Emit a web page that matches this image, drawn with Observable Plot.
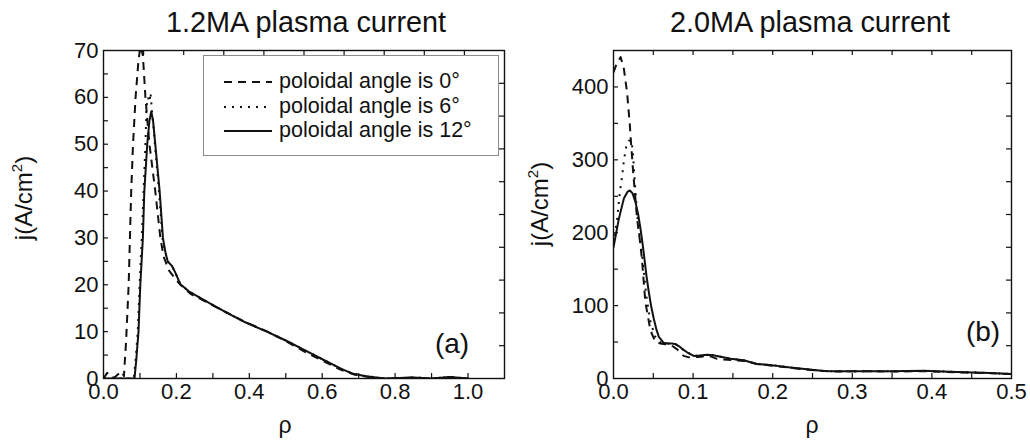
<!DOCTYPE html>
<html>
<head>
<meta charset="utf-8">
<script src="https://cdn.jsdelivr.net/npm/d3@7"></script>
<script src="https://cdn.jsdelivr.net/npm/@observablehq/plot@0.6"></script>
<style>
  html, body { margin: 0; padding: 0; background: #fff; }
  body { width: 1030px; height: 441px; position: relative; overflow: hidden;
         font-family: 'Liberation Sans', Arial, Helvetica, sans-serif; color: #111; }
  .abs { position: absolute; white-space: nowrap; }
  .title { font-size: 30px; line-height: 32px; text-align: center; width: 400px; transform: scaleX(0.96); }
  .ylab { font-size: 24px; transform: translate(-50%, -50%) rotate(-90deg); }
  .ylab sup { font-size: 15px; vertical-align: 10px; line-height: 0; }
  .xlab { font-size: 23px; transform: translate(-50%, -50%); }
  .tag { font-size: 28px; transform: translate(-50%, -50%); }
  .legend { border: 1.5px solid #8c8c8c; box-sizing: border-box; background: #fff; }
  .legend .row { position: absolute; left: 20px; height: 26px; font-size: 21.5px; line-height: 26px; }
  .legend svg { vertical-align: middle; margin-right: 7px; }
</style>
</head>
<body>
<div id="left" class="abs" style="left:0;top:0"></div>
<div id="right" class="abs" style="left:515px;top:0"></div>

<script>
// ---------------- data ----------------
// Panel (a): 1.2MA plasma current
const titleA = "1.2MA plasma current";
const rhoA0 = [0, 0.01, 0.02, 0.03, 0.04, 0.05, 0.056, 0.062, 0.069, 0.076, 0.081, 0.088, 0.095, 0.101, 0.108, 0.115, 0.126, 0.142, 0.156, 0.165, 0.18, 0.197, 0.211, 0.24, 0.29, 0.34, 0.39, 0.45, 0.5, 0.55, 0.6, 0.65, 0.69, 0.73, 0.78, 0.85, 0.9, 0.95, 1.0];
const jA0   = [0, 1.2, 0.3, 0.2, 0.9, 1.5, 0.5, 8, 20, 40, 50, 60, 67, 71, 69, 60, 50, 40, 30, 26, 23, 21.3, 20, 18, 16, 14, 12, 10, 8, 5.8, 3.8, 1.9, 0.8, 0.3, 0, 0.2, 0, 0.3, 0];
const rhoA6 = [0, 0.083, 0.088, 0.094, 0.099, 0.105, 0.110, 0.115, 0.118, 0.122, 0.126, 0.129, 0.133, 0.138, 0.143, 0.150, 0.157, 0.163, 0.170, 0.176, 0.188, 0.197, 0.211, 0.234, 0.293, 0.339, 0.389, 0.448, 0.503, 0.553, 0.603, 0.654, 0.685, 0.72, 0.77, 0.85, 0.9, 0.95, 1.0];
const jA6   = [0, 0, 4, 10, 20, 30, 40, 50, 58, 60, 59, 61, 57, 53, 48, 42, 35, 29, 26.9, 25, 24, 22.6, 20.1, 18.6, 16, 14, 12, 10, 8, 6, 4, 2, 1, 0.5, 0, 0.2, 0, 0.3, 0];
const rhoA12 = [0, 0.085, 0.090, 0.096, 0.101, 0.108, 0.112, 0.120, 0.126, 0.131, 0.136, 0.142, 0.148, 0.154, 0.163, 0.170, 0.176, 0.188, 0.197, 0.211, 0.234, 0.293, 0.339, 0.389, 0.448, 0.503, 0.553, 0.603, 0.654, 0.685, 0.72, 0.77, 0.85, 0.9, 0.95, 1.0];
const jA12   = [0, 0, 4, 10, 20, 30, 40, 50, 55, 57, 55, 50, 45, 40, 30, 26.9, 25, 24, 22.6, 20.1, 18.6, 16, 14, 12, 10, 8, 6, 4, 2, 1, 0.5, 0, 0.2, 0, 0.3, 0];

// Panel (b): 2.0MA plasma current
const titleB = "2.0MA plasma current";
const rhoB0 = [0, 0.004, 0.009, 0.013, 0.017, 0.0205, 0.022, 0.0247, 0.0268, 0.0297, 0.0339, 0.036, 0.040, 0.0464, 0.0527, 0.059, 0.065, 0.072, 0.08, 0.088, 0.095, 0.1, 0.11, 0.12, 0.13, 0.15, 0.165, 0.18, 0.2, 0.22, 0.24, 0.26, 0.28, 0.3, 0.32, 0.35, 0.39, 0.43, 0.47, 0.5];
const jB0   = [420, 432, 441, 425, 393, 348, 324, 283, 256, 219, 183, 160, 105, 66, 50, 48, 47, 46, 40, 31, 29, 29, 30, 31, 27, 25, 24, 20, 17.5, 15, 12.5, 10.5, 9.5, 9.8, 10, 9.5, 10, 8.5, 7.5, 6];
const rhoB6 = [0, 0.0046, 0.008, 0.011, 0.013, 0.0163, 0.019, 0.022, 0.024, 0.0268, 0.0297, 0.0339, 0.037, 0.041, 0.046, 0.052, 0.058, 0.063, 0.068, 0.0737, 0.078, 0.082, 0.087, 0.0925, 0.1008, 0.108, 0.118, 0.125, 0.130, 0.147, 0.1635, 0.180, 0.201, 0.222, 0.243, 0.264, 0.285, 0.306, 0.348, 0.39, 0.431, 0.473, 0.5];
const jB6   = [185, 219, 256, 279, 299, 320, 326, 327, 315, 270, 225, 185, 160, 115, 80, 58, 50, 48, 48, 48, 47, 44.5, 40, 36, 31, 31.5, 32.6, 32, 31, 27, 25, 20, 18, 15, 12.6, 10.3, 9.8, 10, 10, 10.5, 9, 7.5, 6];
const rhoB12 = [0, 0.0067, 0.013, 0.0175, 0.0205, 0.024, 0.0276, 0.031, 0.034, 0.0365, 0.0389, 0.0415, 0.0443, 0.0475, 0.0506, 0.054, 0.057, 0.063, 0.068, 0.0737, 0.078, 0.082, 0.087, 0.0925, 0.1008, 0.108, 0.118, 0.125, 0.130, 0.147, 0.1635, 0.180, 0.201, 0.222, 0.243, 0.264, 0.285, 0.306, 0.348, 0.39, 0.431, 0.473, 0.5];
const jB12   = [180, 219, 247, 256, 258, 254, 242, 225, 205, 185, 164, 140, 119, 98, 82, 67, 57, 49, 48, 48, 47, 44.5, 40, 36, 31, 31.5, 32.6, 32, 31, 27, 25, 20, 18, 15, 12.6, 10.3, 9.8, 10, 10, 10.5, 9, 7.5, 6];

// legend / labels
const seriesNames = ["poloidal angle is 0°", "poloidal angle is 6°", "poloidal angle is 12°"];
const xLabelText = "ρ";
const yLabelHTML = "j(A/cm<sup>2</sup>)";

// axis ticks
const xLabelsA = [0, 0.2, 0.4, 0.6, 0.8, 1.0];
const yLabelsA = [0, 10, 20, 30, 40, 50, 60, 70];
const xTicksBottomA = d3.range(1, 11).map(i => i / 10);
const xTicksTopA = d3.range(1, 10).map(i => i * 0.11);
const yTicksLeftA = d3.range(1, 14).map(i => i * 5);
const yTicksRightA = d3.range(1, 10).map(i => i * 7);

const xLabelsB = [0, 0.1, 0.2, 0.3, 0.4, 0.5];
const yLabelsB = [0, 100, 200, 300, 400];
const xTicksB = d3.range(1, 10).map(i => i * 0.05);
const yTicksLeftB = d3.range(1, 9).map(i => i * 50);
const yTicksRightB = d3.range(1, 10).map(i => i * 45);

// ---------------- drawing ----------------
const INK = "#111";
const styles = [
  {strokeDasharray: "8,6", strokeLinecap: "butt"},
  {strokeDasharray: "2,6", strokeLinecap: "butt"},
  {}
];
const toRows = (xs, ys) => xs.map((x, i) => ({x, y: ys[i]}));

function panel(o) {
  const H = 441, mt = 50, mb = 63;
  const pw = o.width - o.marginLeft - o.marginRight;
  const ph = H - mt - mb;
  const tl = 5;
  return Plot.plot({
    width: o.width, height: H,
    marginLeft: o.marginLeft, marginRight: o.marginRight, marginTop: mt, marginBottom: mb,
    x: {domain: o.xDomain},
    y: {domain: o.yDomain},
    style: {fontFamily: "'Liberation Sans', Arial, Helvetica, sans-serif", fontSize: "22px", color: INK, background: "transparent", overflow: "visible"},
    marks: [
      Plot.axisX({ticks: o.xLabels, tickSize: 0, tickPadding: 5, tickFormat: d3.format(".1f"), label: null, fontSize: 22}),
      Plot.axisY({ticks: o.yLabels, tickSize: 0, tickPadding: 5, tickFormat: d3.format("d"), label: null, fontSize: 22}),
      Plot.tickX(o.xBottom, {x: d => d, insetTop: ph - tl, stroke: INK, strokeWidth: 1.2}),
      Plot.tickX(o.xTop, {x: d => d, insetBottom: ph - tl, stroke: INK, strokeWidth: 1.2}),
      Plot.tickY(o.yLeft, {y: d => d, insetRight: pw - tl, stroke: INK, strokeWidth: 1.2}),
      Plot.tickY(o.yRight, {y: d => d, insetLeft: pw - tl, stroke: INK, strokeWidth: 1.2}),
      ...o.series.map((s, i) => Plot.line(toRows(s[0], s[1]), {x: "x", y: "y", stroke: INK, strokeWidth: 2, clip: true, curve: "linear", ...styles[i]})),
      Plot.frame({stroke: INK, strokeWidth: 1.4})
    ]
  });
}

document.getElementById("left").append(panel({
  width: 515, marginLeft: 103, marginRight: 11,
  xDomain: [0, 1.1], yDomain: [0, 70],
  xLabels: xLabelsA, yLabels: yLabelsA,
  xBottom: xTicksBottomA, xTop: xTicksTopA, yLeft: yTicksLeftA, yRight: yTicksRightA,
  series: [[rhoA0, jA0], [rhoA6, jA6], [rhoA12, jA12]]
}));
document.getElementById("right").append(panel({
  width: 515, marginLeft: 98, marginRight: 19,
  xDomain: [0, 0.5], yDomain: [0, 450],
  xLabels: xLabelsB, yLabels: yLabelsB,
  xBottom: xTicksB, xTop: xTicksB, yLeft: yTicksLeftB, yRight: yTicksRightB,
  series: [[rhoB0, jB0], [rhoB6, jB6], [rhoB12, jB12]]
}));

// overlays: titles, axis labels, panel tags, legend
function add(html, cls, css) {
  const d = document.createElement("div");
  d.className = "abs " + cls;
  d.style.cssText = css;
  d.innerHTML = html;
  document.body.append(d);
  return d;
}
add(titleA, "title", "left:106px;top:6px;");
add(titleB, "title", "left:610px;top:6px;");
add(yLabelHTML, "ylab", "left:24px;top:198px;");
add(yLabelHTML, "ylab", "left:540px;top:204px;");
add(xLabelText, "xlab", "left:285px;top:425px;");
add(xLabelText, "xlab", "left:812px;top:425px;");
add("(a)", "tag", "left:452px;top:344px;");
add("(b)", "tag", "left:983px;top:332px;");

const leg = add("", "legend", "left:203px;top:55px;width:296px;height:101px;");
const rowY = [12, 37, 61];
seriesNames.forEach((name, i) => {
  const r = document.createElement("div");
  r.className = "row";
  r.style.top = rowY[i] + "px";
  const st = styles[i];
  r.innerHTML = `<svg width="48" height="10"><line x1="0" y1="5" x2="48" y2="5" stroke="${INK}" stroke-width="2" ${st.strokeDasharray ? `stroke-dasharray="${st.strokeDasharray}"` : ""}/></svg>${name}`;
  leg.append(r);
});
</script>
</body>
</html>
